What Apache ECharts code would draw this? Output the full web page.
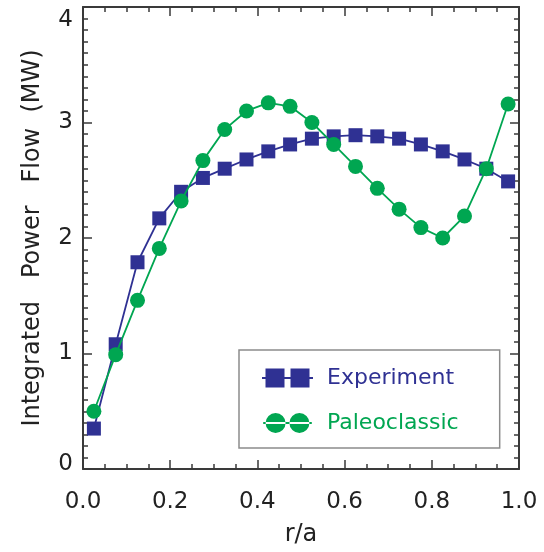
<!DOCTYPE html>
<html>
<head>
<meta charset="utf-8">
<script src="https://cdn.jsdelivr.net/npm/echarts@6/dist/echarts.min.js"></script>
<style>
  html, body { margin: 0; padding: 0; background: #fff; }
  #chart { width: 544px; height: 552px; }
</style>
</head>
<body>
<div id="chart"></div>
<script>
// Normalised radius r/a at the centre of each radial bin
const radius = [0.025, 0.075, 0.125, 0.175, 0.225, 0.275, 0.325, 0.375, 0.425, 0.475,
                0.525, 0.575, 0.625, 0.675, 0.725, 0.775, 0.825, 0.875, 0.925, 0.975];

// Integrated power flow (MW)
const experiment = [0.35, 1.08, 1.79, 2.17, 2.40, 2.52, 2.60, 2.68, 2.75, 2.81,
                    2.86, 2.88, 2.89, 2.88, 2.86, 2.81, 2.75, 2.68, 2.60, 2.49];
const paleoclassic = [0.50, 0.99, 1.46, 1.91, 2.32, 2.67, 2.94, 3.10, 3.17, 3.14,
                      3.00, 2.81, 2.62, 2.43, 2.25, 2.09, 2.00, 2.19, 2.60, 3.16];

const seriesNames = ['Experiment', 'Paleoclassic'];
const xTicks = [0.0, 0.2, 0.4, 0.6, 0.8, 1.0];
const yTicks = [0, 1, 2, 3, 4];

const BLUE = '#2f3193';
const GREEN = '#00a651';
const AXIS = '#3a3a3a';
const TEXT = '#222222';
const FONT = 'DejaVu Sans';

const pairs = (xs, ys) => xs.map((x, i) => [x, ys[i]]);

// Legend glyphs: two markers joined by a short line
const squaresIcon = 'path://M0,8.5H51V10.5H0Z M3.5,0H22.5V19H3.5Z M28.5,0H47.5V19H28.5Z';
const circlesIcon = 'path://M0,9.5H51V11.5H0Z M2.5,10.5A10.5,10.5 0 1,0 23.5,10.5A10.5,10.5 0 1,0 2.5,10.5Z M27.5,10.5A10.5,10.5 0 1,0 48.5,10.5A10.5,10.5 0 1,0 27.5,10.5Z';

// Frame pieces; every axis stays on its own edge and ticks point into the plot
const axisLine = () => ({ show: true, onZero: false, lineStyle: { color: AXIS, width: 2 } });
const majorTick = () => ({ show: true, inside: true, length: 9, lineStyle: { color: AXIS, width: 1.5 } });
const minorTick = (n) => ({ show: true, splitNumber: n, length: 5, lineStyle: { color: AXIS, width: 1.5 } });

const chart = echarts.init(document.getElementById('chart'), null, { renderer: 'canvas' });

chart.setOption({
  backgroundColor: '#ffffff',
  animation: false,
  grid: { left: 83, right: 25, top: 7, bottom: 81, containLabel: false },
  legend: {
    orient: 'vertical',
    left: 239,
    top: 350,
    padding: [17, 41, 14, 23],
    itemGap: 23,
    itemWidth: 51,
    itemHeight: 20,
    borderColor: '#8c8c8c',
    borderWidth: 1.5,
    borderRadius: 0,
    backgroundColor: '#ffffff',
    selectedMode: false,
    textStyle: { fontFamily: FONT, fontSize: 22, padding: [0, 0, 0, 9] },
    data: [
      { name: seriesNames[0], icon: squaresIcon, itemStyle: { color: BLUE }, textStyle: { color: BLUE } },
      { name: seriesNames[1], icon: circlesIcon, itemStyle: { color: GREEN }, textStyle: { color: GREEN } }
    ]
  },
  xAxis: [
    {
      type: 'value', position: 'bottom', min: 0, max: 1, interval: 0.2,
      name: 'r/a', nameLocation: 'middle', nameGap: 54,
      nameTextStyle: { fontFamily: FONT, fontSize: 24, color: TEXT },
      axisLine: axisLine(), axisTick: majorTick(), minorTick: minorTick(4),
      splitLine: { show: false },
      axisLabel: {
        margin: 22, fontFamily: FONT, fontSize: 23, color: TEXT,
        formatter: v => {
          const t = xTicks.find(k => Math.abs(k - v) < 1e-9);
          return (t === undefined ? v : t).toFixed(1);
        }
      }
    },
    {
      type: 'value', position: 'top', min: 0, max: 1, interval: 0.2,
      axisLine: axisLine(), axisTick: majorTick(), minorTick: minorTick(4),
      splitLine: { show: false }, axisLabel: { show: false }
    }
  ],
  yAxis: [
    {
      type: 'value', position: 'left', min: 0, max: 4, interval: 1,
      name: 'Integrated   Power   Flow  (MW)', nameLocation: 'middle', nameGap: 38,
      nameTextStyle: { fontFamily: FONT, fontSize: 24, color: TEXT },
      axisLine: axisLine(), axisTick: majorTick(), minorTick: minorTick(10),
      splitLine: { show: false },
      axisLabel: {
        margin: 10, fontFamily: FONT, fontSize: 23, color: TEXT,
        formatter: v => {
          const t = yTicks.find(k => Math.abs(k - v) < 1e-9);
          const s = String(t === undefined ? v : t);
          if (t === yTicks[0]) return '{lo|' + s + '}';
          if (t === yTicks[yTicks.length - 1]) return '{hi|' + s + '}';
          return s;
        },
        rich: {
          lo: { fontFamily: FONT, fontSize: 23, color: TEXT, padding: [0, 0, 9, 0] },
          hi: { fontFamily: FONT, fontSize: 23, color: TEXT, padding: [26, 0, 0, 0] }
        }
      }
    },
    {
      type: 'value', position: 'right', min: 0, max: 4, interval: 1,
      axisLine: axisLine(), axisTick: majorTick(), minorTick: minorTick(10),
      splitLine: { show: false }, axisLabel: { show: false }
    }
  ],
  series: [
    {
      name: seriesNames[0], type: 'line', xAxisIndex: 0, yAxisIndex: 0,
      data: pairs(radius, experiment),
      symbol: 'rect', symbolSize: 14,
      itemStyle: { color: BLUE },
      lineStyle: { color: BLUE, width: 1.8 },
      z: 2
    },
    {
      name: seriesNames[1], type: 'line', xAxisIndex: 0, yAxisIndex: 0,
      data: pairs(radius, paleoclassic),
      symbol: 'circle', symbolSize: 15,
      itemStyle: { color: GREEN },
      lineStyle: { color: GREEN, width: 1.8 },
      z: 3
    }
  ]
});
</script>
</body>
</html>
